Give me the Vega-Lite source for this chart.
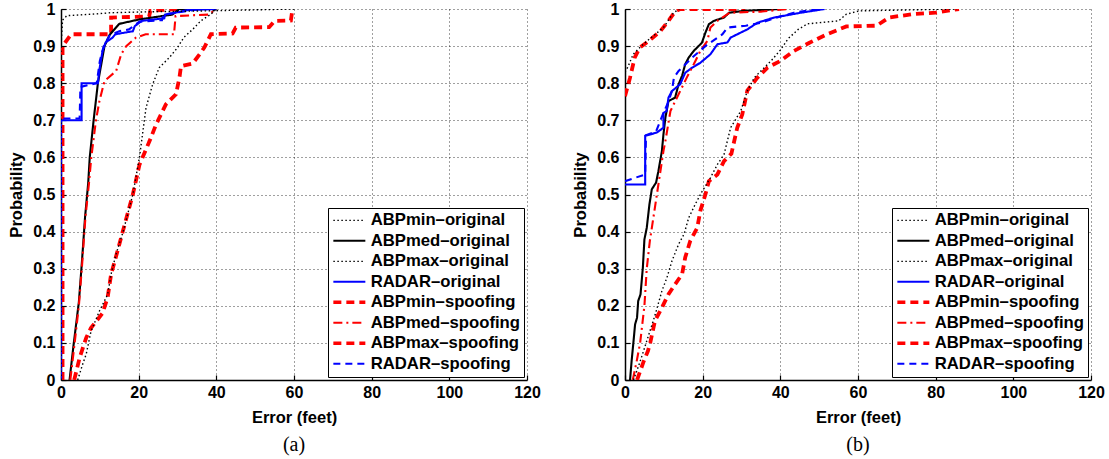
{
  "$schema": "https://vega.github.io/schema/vega-lite/v6.json",
  "background": "white",
  "padding": {"left": 8, "top": 1, "right": 5, "bottom": 5},
  "datasets": {
    "a": [
      {"s":"ABPmin–original","x":0,"p":0},{"s":"ABPmin–original","x":0,"p":0.9},{"s":"ABPmin–original","x":0.4,"p":0.97},{"s":"ABPmin–original","x":1.5,"p":0.982},{"s":"ABPmin–original","x":8,"p":0.986},{"s":"ABPmin–original","x":13,"p":0.99},{"s":"ABPmin–original","x":25,"p":0.993},{"s":"ABPmin–original","x":38,"p":0.995},{"s":"ABPmin–original","x":60,"p":1},
      {"s":"ABPmed–original","x":2.2,"p":0},{"s":"ABPmed–original","x":3.3,"p":0.1},{"s":"ABPmed–original","x":4.6,"p":0.21},{"s":"ABPmed–original","x":5.4,"p":0.32},{"s":"ABPmed–original","x":6.2,"p":0.44},{"s":"ABPmed–original","x":7.0,"p":0.53},{"s":"ABPmed–original","x":7.4,"p":0.6},{"s":"ABPmed–original","x":8.4,"p":0.7},{"s":"ABPmed–original","x":9.5,"p":0.8},{"s":"ABPmed–original","x":11.2,"p":0.9},{"s":"ABPmed–original","x":12.5,"p":0.93},{"s":"ABPmed–original","x":15,"p":0.96},{"s":"ABPmed–original","x":20.2,"p":0.972},{"s":"ABPmed–original","x":28.7,"p":0.985},{"s":"ABPmed–original","x":30.5,"p":1},{"s":"ABPmed–original","x":40,"p":1},
      {"s":"ABPmax–original","x":4.3,"p":0},{"s":"ABPmax–original","x":5.5,"p":0.04},{"s":"ABPmax–original","x":6.5,"p":0.07},{"s":"ABPmax–original","x":7.7,"p":0.13},{"s":"ABPmax–original","x":9.9,"p":0.186},{"s":"ABPmax–original","x":12,"p":0.23},{"s":"ABPmax–original","x":13,"p":0.29},{"s":"ABPmax–original","x":14.2,"p":0.34},{"s":"ABPmax–original","x":16,"p":0.4},{"s":"ABPmax–original","x":18.5,"p":0.5},{"s":"ABPmax–original","x":20.2,"p":0.6},{"s":"ABPmax–original","x":21.9,"p":0.734},{"s":"ABPmax–original","x":23.6,"p":0.797},{"s":"ABPmax–original","x":25.3,"p":0.842},{"s":"ABPmax–original","x":27.9,"p":0.869},{"s":"ABPmax–original","x":30,"p":0.896},{"s":"ABPmax–original","x":31.6,"p":0.923},{"s":"ABPmax–original","x":33.9,"p":0.945},{"s":"ABPmax–original","x":36,"p":0.968},{"s":"ABPmax–original","x":38.6,"p":0.986},{"s":"ABPmax–original","x":40,"p":1},
      {"s":"RADAR–original","x":0,"p":0},{"s":"RADAR–original","x":0,"p":0.7},{"s":"RADAR–original","x":5.3,"p":0.7},{"s":"RADAR–original","x":5.3,"p":0.8},{"s":"RADAR–original","x":9.5,"p":0.8},{"s":"RADAR–original","x":9.9,"p":0.837},{"s":"RADAR–original","x":10.7,"p":0.887},{"s":"RADAR–original","x":11.5,"p":0.91},{"s":"RADAR–original","x":13.3,"p":0.923},{"s":"RADAR–original","x":14,"p":0.932},{"s":"RADAR–original","x":18.5,"p":0.94},{"s":"RADAR–original","x":19,"p":0.954},{"s":"RADAR–original","x":20.8,"p":0.968},{"s":"RADAR–original","x":26.6,"p":0.975},{"s":"RADAR–original","x":26.8,"p":0.985},{"s":"RADAR–original","x":29.5,"p":0.99},{"s":"RADAR–original","x":32.5,"p":0.997},{"s":"RADAR–original","x":40,"p":1},
      {"s":"ABPmin–spoofing","x":0.4,"p":0},{"s":"ABPmin–spoofing","x":0.4,"p":0.9},{"s":"ABPmin–spoofing","x":2.6,"p":0.932},{"s":"ABPmin–spoofing","x":12.9,"p":0.932},{"s":"ABPmin–spoofing","x":12.9,"p":0.977},{"s":"ABPmin–spoofing","x":22.7,"p":0.98},{"s":"ABPmin–spoofing","x":23,"p":0.995},{"s":"ABPmin–spoofing","x":30,"p":1},
      {"s":"ABPmed–spoofing","x":2.4,"p":0},{"s":"ABPmed–spoofing","x":3.3,"p":0.08},{"s":"ABPmed–spoofing","x":4.6,"p":0.2},{"s":"ABPmed–spoofing","x":5.5,"p":0.32},{"s":"ABPmed–spoofing","x":6.3,"p":0.44},{"s":"ABPmed–spoofing","x":7.2,"p":0.53},{"s":"ABPmed–spoofing","x":7.8,"p":0.6},{"s":"ABPmed–spoofing","x":9,"p":0.7},{"s":"ABPmed–spoofing","x":9.9,"p":0.752},{"s":"ABPmed–spoofing","x":11.2,"p":0.806},{"s":"ABPmed–spoofing","x":14.2,"p":0.833},{"s":"ABPmed–spoofing","x":15.5,"p":0.878},{"s":"ABPmed–spoofing","x":16.8,"p":0.9},{"s":"ABPmed–spoofing","x":19.3,"p":0.923},{"s":"ABPmed–spoofing","x":21.8,"p":0.932},{"s":"ABPmed–spoofing","x":29.1,"p":0.932},{"s":"ABPmed–spoofing","x":29.5,"p":0.981},{"s":"ABPmed–spoofing","x":38,"p":0.985},{"s":"ABPmed–spoofing","x":40,"p":1},
      {"s":"ABPmax–spoofing","x":3.4,"p":0},{"s":"ABPmax–spoofing","x":4.8,"p":0.06},{"s":"ABPmax–spoofing","x":6.5,"p":0.114},{"s":"ABPmax–spoofing","x":7.7,"p":0.14},{"s":"ABPmax–spoofing","x":10.7,"p":0.18},{"s":"ABPmax–spoofing","x":12,"p":0.222},{"s":"ABPmax–spoofing","x":12.9,"p":0.285},{"s":"ABPmax–spoofing","x":14.2,"p":0.334},{"s":"ABPmax–spoofing","x":15.9,"p":0.4},{"s":"ABPmax–spoofing","x":18.5,"p":0.5},{"s":"ABPmax–spoofing","x":20.2,"p":0.58},{"s":"ABPmax–spoofing","x":22.8,"p":0.644},{"s":"ABPmax–spoofing","x":24.5,"p":0.689},{"s":"ABPmax–spoofing","x":27,"p":0.743},{"s":"ABPmax–spoofing","x":29.6,"p":0.77},{"s":"ABPmax–spoofing","x":30.5,"p":0.815},{"s":"ABPmax–spoofing","x":30.9,"p":0.846},{"s":"ABPmax–spoofing","x":33.9,"p":0.853},{"s":"ABPmax–spoofing","x":35.7,"p":0.878},{"s":"ABPmax–spoofing","x":36.9,"p":0.896},{"s":"ABPmax–spoofing","x":38.6,"p":0.932},{"s":"ABPmax–spoofing","x":44.2,"p":0.934},{"s":"ABPmax–spoofing","x":45,"p":0.95},{"s":"ABPmax–spoofing","x":53.6,"p":0.951},{"s":"ABPmax–spoofing","x":55,"p":0.968},{"s":"ABPmax–spoofing","x":59.2,"p":0.969},{"s":"ABPmax–spoofing","x":59.6,"p":1},
      {"s":"RADAR–spoofing","x":0,"p":0},{"s":"RADAR–spoofing","x":0,"p":0.705},{"s":"RADAR–spoofing","x":4.8,"p":0.705},{"s":"RADAR–spoofing","x":5,"p":0.79},{"s":"RADAR–spoofing","x":9.2,"p":0.8},{"s":"RADAR–spoofing","x":10,"p":0.86},{"s":"RADAR–spoofing","x":11,"p":0.9},{"s":"RADAR–spoofing","x":12.6,"p":0.93},{"s":"RADAR–spoofing","x":15,"p":0.94},{"s":"RADAR–spoofing","x":17.5,"p":0.945},{"s":"RADAR–spoofing","x":20.2,"p":0.966},{"s":"RADAR–spoofing","x":26,"p":0.97},{"s":"RADAR–spoofing","x":26.4,"p":0.985},{"s":"RADAR–spoofing","x":29.5,"p":0.99},{"s":"RADAR–spoofing","x":36,"p":1}
    ],
    "b": [
      {"s":"ABPmin–original","x":0,"p":0.83},{"s":"ABPmin–original","x":0.8,"p":0.845},{"s":"ABPmin–original","x":2.1,"p":0.878},{"s":"ABPmin–original","x":4.7,"p":0.905},{"s":"ABPmin–original","x":6.4,"p":0.92},{"s":"ABPmin–original","x":9.9,"p":0.95},{"s":"ABPmin–original","x":12.5,"p":0.99},{"s":"ABPmin–original","x":14,"p":1},
      {"s":"ABPmed–original","x":1.3,"p":0},{"s":"ABPmed–original","x":1.7,"p":0.051},{"s":"ABPmed–original","x":2.2,"p":0.105},{"s":"ABPmed–original","x":2.6,"p":0.15},{"s":"ABPmed–original","x":3.1,"p":0.168},{"s":"ABPmed–original","x":3.4,"p":0.213},{"s":"ABPmed–original","x":4.0,"p":0.231},{"s":"ABPmed–original","x":4.6,"p":0.303},{"s":"ABPmed–original","x":5.0,"p":0.379},{"s":"ABPmed–original","x":5.6,"p":0.41},{"s":"ABPmed–original","x":6.3,"p":0.474},{"s":"ABPmed–original","x":6.9,"p":0.514},{"s":"ABPmed–original","x":8.0,"p":0.532},{"s":"ABPmed–original","x":8.6,"p":0.563},{"s":"ABPmed–original","x":9.5,"p":0.617},{"s":"ABPmed–original","x":9.9,"p":0.662},{"s":"ABPmed–original","x":10.4,"p":0.707},{"s":"ABPmed–original","x":11.2,"p":0.752},{"s":"ABPmed–original","x":12.9,"p":0.761},{"s":"ABPmed–original","x":13.8,"p":0.797},{"s":"ABPmed–original","x":14.7,"p":0.82},{"s":"ABPmed–original","x":15.5,"p":0.851},{"s":"ABPmed–original","x":16.4,"p":0.869},{"s":"ABPmed–original","x":17.7,"p":0.887},{"s":"ABPmed–original","x":19.8,"p":0.909},{"s":"ABPmed–original","x":20.7,"p":0.936},{"s":"ABPmed–original","x":21.6,"p":0.959},{"s":"ABPmed–original","x":22.9,"p":0.968},{"s":"ABPmed–original","x":25.5,"p":0.977},{"s":"ABPmed–original","x":26.8,"p":0.99},{"s":"ABPmed–original","x":30.6,"p":0.995},{"s":"ABPmed–original","x":40,"p":1},
      {"s":"ABPmax–original","x":2.2,"p":0},{"s":"ABPmax–original","x":3.9,"p":0.05},{"s":"ABPmax–original","x":5.6,"p":0.105},{"s":"ABPmax–original","x":7.8,"p":0.177},{"s":"ABPmax–original","x":9.5,"p":0.24},{"s":"ABPmax–original","x":10.8,"p":0.276},{"s":"ABPmax–original","x":12.1,"p":0.321},{"s":"ABPmax–original","x":13.8,"p":0.366},{"s":"ABPmax–original","x":15.2,"p":0.393},{"s":"ABPmax–original","x":16.4,"p":0.437},{"s":"ABPmax–original","x":18.1,"p":0.474},{"s":"ABPmax–original","x":19.9,"p":0.509},{"s":"ABPmax–original","x":22,"p":0.545},{"s":"ABPmax–original","x":23.8,"p":0.581},{"s":"ABPmax–original","x":25.5,"p":0.608},{"s":"ABPmax–original","x":27.2,"p":0.68},{"s":"ABPmax–original","x":29.8,"p":0.725},{"s":"ABPmax–original","x":31.5,"p":0.779},{"s":"ABPmax–original","x":33.3,"p":0.815},{"s":"ABPmax–original","x":35,"p":0.833},{"s":"ABPmax–original","x":37.6,"p":0.86},{"s":"ABPmax–original","x":40,"p":0.889},{"s":"ABPmax–original","x":42,"p":0.92},{"s":"ABPmax–original","x":44.6,"p":0.945},{"s":"ABPmax–original","x":47,"p":0.96},{"s":"ABPmax–original","x":55,"p":0.968},{"s":"ABPmax–original","x":57,"p":0.986},{"s":"ABPmax–original","x":60.4,"p":0.995},{"s":"ABPmax–original","x":85.5,"p":1},
      {"s":"RADAR–original","x":0,"p":0.527},{"s":"RADAR–original","x":5.2,"p":0.527},{"s":"RADAR–original","x":5.2,"p":0.658},{"s":"RADAR–original","x":8.2,"p":0.667},{"s":"RADAR–original","x":9.9,"p":0.68},{"s":"RADAR–original","x":9.9,"p":0.72},{"s":"RADAR–original","x":10.7,"p":0.725},{"s":"RADAR–original","x":11.2,"p":0.761},{"s":"RADAR–original","x":12.1,"p":0.779},{"s":"RADAR–original","x":14.2,"p":0.797},{"s":"RADAR–original","x":15.5,"p":0.828},{"s":"RADAR–original","x":17.3,"p":0.842},{"s":"RADAR–original","x":19.4,"p":0.855},{"s":"RADAR–original","x":22,"p":0.878},{"s":"RADAR–original","x":23.8,"p":0.905},{"s":"RADAR–original","x":26.4,"p":0.91},{"s":"RADAR–original","x":27.2,"p":0.923},{"s":"RADAR–original","x":31.5,"p":0.945},{"s":"RADAR–original","x":34.1,"p":0.963},{"s":"RADAR–original","x":38.4,"p":0.977},{"s":"RADAR–original","x":45.3,"p":0.99},{"s":"RADAR–original","x":51.4,"p":1},
      {"s":"ABPmin–spoofing","x":0,"p":0.765},{"s":"ABPmin–spoofing","x":1.3,"p":0.815},{"s":"ABPmin–spoofing","x":2.5,"p":0.869},{"s":"ABPmin–spoofing","x":3.8,"p":0.896},{"s":"ABPmin–spoofing","x":5.5,"p":0.909},{"s":"ABPmin–spoofing","x":6.8,"p":0.92},{"s":"ABPmin–spoofing","x":9.1,"p":0.94},{"s":"ABPmin–spoofing","x":11.2,"p":0.968},{"s":"ABPmin–spoofing","x":12.9,"p":0.993},{"s":"ABPmin–spoofing","x":14.2,"p":1},{"s":"ABPmin–spoofing","x":31,"p":1},
      {"s":"ABPmed–spoofing","x":2.0,"p":0},{"s":"ABPmed–spoofing","x":3.0,"p":0.05},{"s":"ABPmed–spoofing","x":3.9,"p":0.1},{"s":"ABPmed–spoofing","x":5.0,"p":0.2},{"s":"ABPmed–spoofing","x":5.6,"p":0.3},{"s":"ABPmed–spoofing","x":6.4,"p":0.375},{"s":"ABPmed–spoofing","x":7.3,"p":0.437},{"s":"ABPmed–spoofing","x":8.6,"p":0.527},{"s":"ABPmed–spoofing","x":9.9,"p":0.617},{"s":"ABPmed–spoofing","x":10.4,"p":0.644},{"s":"ABPmed–spoofing","x":11.7,"p":0.725},{"s":"ABPmed–spoofing","x":13.8,"p":0.77},{"s":"ABPmed–spoofing","x":15.9,"p":0.815},{"s":"ABPmed–spoofing","x":17.7,"p":0.851},{"s":"ABPmed–spoofing","x":19.4,"p":0.887},{"s":"ABPmed–spoofing","x":21.2,"p":0.914},{"s":"ABPmed–spoofing","x":22,"p":0.95},{"s":"ABPmed–spoofing","x":24,"p":0.97},{"s":"ABPmed–spoofing","x":27,"p":0.99},{"s":"ABPmed–spoofing","x":35,"p":0.993},{"s":"ABPmed–spoofing","x":42,"p":1},
      {"s":"ABPmax–spoofing","x":3.1,"p":0},{"s":"ABPmax–spoofing","x":4.8,"p":0.05},{"s":"ABPmax–spoofing","x":5.9,"p":0.078},{"s":"ABPmax–spoofing","x":6.5,"p":0.1},{"s":"ABPmax–spoofing","x":7.7,"p":0.159},{"s":"ABPmax–spoofing","x":9.5,"p":0.195},{"s":"ABPmax–spoofing","x":11.2,"p":0.231},{"s":"ABPmax–spoofing","x":12.9,"p":0.258},{"s":"ABPmax–spoofing","x":14.7,"p":0.285},{"s":"ABPmax–spoofing","x":15.5,"p":0.33},{"s":"ABPmax–spoofing","x":16.8,"p":0.375},{"s":"ABPmax–spoofing","x":18.6,"p":0.41},{"s":"ABPmax–spoofing","x":19.4,"p":0.456},{"s":"ABPmax–spoofing","x":20.7,"p":0.5},{"s":"ABPmax–spoofing","x":21.6,"p":0.536},{"s":"ABPmax–spoofing","x":23.8,"p":0.554},{"s":"ABPmax–spoofing","x":25.5,"p":0.59},{"s":"ABPmax–spoofing","x":27.4,"p":0.61},{"s":"ABPmax–spoofing","x":28.9,"p":0.68},{"s":"ABPmax–spoofing","x":30.2,"p":0.716},{"s":"ABPmax–spoofing","x":31.5,"p":0.78},{"s":"ABPmax–spoofing","x":34.1,"p":0.815},{"s":"ABPmax–spoofing","x":36.7,"p":0.842},{"s":"ABPmax–spoofing","x":40,"p":0.86},{"s":"ABPmax–spoofing","x":43.5,"p":0.887},{"s":"ABPmax–spoofing","x":47.5,"p":0.909},{"s":"ABPmax–spoofing","x":52,"p":0.932},{"s":"ABPmax–spoofing","x":57,"p":0.953},{"s":"ABPmax–spoofing","x":64.8,"p":0.955},{"s":"ABPmax–spoofing","x":68,"p":0.977},{"s":"ABPmax–spoofing","x":74,"p":0.986},{"s":"ABPmax–spoofing","x":80,"p":0.99},{"s":"ABPmax–spoofing","x":86,"p":1},
      {"s":"RADAR–spoofing","x":0,"p":0.536},{"s":"RADAR–spoofing","x":5.2,"p":0.554},{"s":"RADAR–spoofing","x":5.4,"p":0.66},{"s":"RADAR–spoofing","x":8,"p":0.67},{"s":"RADAR–spoofing","x":9.9,"p":0.72},{"s":"RADAR–spoofing","x":11.2,"p":0.75},{"s":"RADAR–spoofing","x":12.1,"p":0.78},{"s":"RADAR–spoofing","x":12.6,"p":0.815},{"s":"RADAR–spoofing","x":13.8,"p":0.833},{"s":"RADAR–spoofing","x":14.7,"p":0.842},{"s":"RADAR–spoofing","x":17.3,"p":0.869},{"s":"RADAR–spoofing","x":20.7,"p":0.9},{"s":"RADAR–spoofing","x":25.1,"p":0.932},{"s":"RADAR–spoofing","x":26.4,"p":0.95},{"s":"RADAR–spoofing","x":31.1,"p":0.955},{"s":"RADAR–spoofing","x":35,"p":0.963},{"s":"RADAR–spoofing","x":40,"p":0.98},{"s":"RADAR–spoofing","x":43.5,"p":0.99},{"s":"RADAR–spoofing","x":50,"p":1}
    ]
  },
  "spacing": 98,
  "bounds": "flush",
  "resolve": {
    "scale": {"color": "independent", "strokeDash": "independent"},
    "legend": {"color": "independent", "strokeDash": "independent"}
  },
  "hconcat": [
    {
      "width": 466, "height": 371,
      "data": {"name": "a"},
      "title": {"text": "(a)", "orient": "bottom"},
      "encoding": {
        "x": {"field": "x", "type": "quantitative", "scale": {"domain": [0, 120], "nice": false}, "axis": {"values": [0, 20, 40, 60, 80, 100, 120], "title": "Error (feet)"}},
        "y": {"field": "p", "type": "quantitative", "scale": {"domain": [0, 1], "nice": false}, "axis": {"values": [0, 0.1, 0.2, 0.3, 0.4, 0.5, 0.6, 0.7, 0.8, 0.9, 1], "format": "~g", "title": "Probability"}},
        "color": {"field": "s", "type": "nominal", "title": null,
          "scale": {"domain": ["ABPmin–original","ABPmed–original","ABPmax–original","RADAR–original","ABPmin–spoofing","ABPmed–spoofing","ABPmax–spoofing","RADAR–spoofing"], "range": ["#000000","#000000","#000000","#0000ff","#ff0000","#ff0000","#ff0000","#0000ff"]},
          "legend": {"encode": {"symbols": {"update": {"strokeWidth": {"signal": "datum.value == 'ABPmin–spoofing' || datum.value == 'ABPmax–spoofing' ? 3.5 : (datum.value == 'ABPmin–original' || datum.value == 'ABPmax–original' ? 1.4 : 2)"}}}}}},
        "strokeDash": {"field": "s", "type": "nominal", "title": null,
          "scale": {"domain": ["ABPmin–original","ABPmed–original","ABPmax–original","RADAR–original","ABPmin–spoofing","ABPmed–spoofing","ABPmax–spoofing","RADAR–spoofing"], "range": [[1.5,2.5],[1,0],[1.5,2.5],[1,0],[8,5],[9,4,2,4],[8,5],[7,5]]}},
        "order": [{"field": "p", "type": "quantitative"}, {"field": "x", "type": "quantitative"}]
      },
      "layer": [
        {"transform": [{"filter": {"field": "s", "oneOf": ["ABPmin–spoofing", "ABPmax–spoofing"]}}], "mark": {"type": "line", "strokeCap": "butt", "clip": true, "strokeWidth": 3.8}},
        {"transform": [{"filter": {"field": "s", "oneOf": ["ABPmed–original", "RADAR–original", "ABPmed–spoofing", "RADAR–spoofing"]}}], "mark": {"type": "line", "strokeCap": "butt", "clip": true, "strokeWidth": 2.1}},
        {"transform": [{"filter": {"field": "s", "oneOf": ["ABPmin–original", "ABPmax–original"]}}], "mark": {"type": "line", "strokeCap": "butt", "clip": true, "strokeWidth": 1.4}}
      ]
    },
    {
      "width": 466, "height": 371,
      "data": {"name": "b"},
      "title": {"text": "(b)", "orient": "bottom"},
      "encoding": {
        "x": {"field": "x", "type": "quantitative", "scale": {"domain": [0, 120], "nice": false}, "axis": {"values": [0, 20, 40, 60, 80, 100, 120], "title": "Error (feet)"}},
        "y": {"field": "p", "type": "quantitative", "scale": {"domain": [0, 1], "nice": false}, "axis": {"values": [0, 0.1, 0.2, 0.3, 0.4, 0.5, 0.6, 0.7, 0.8, 0.9, 1], "format": "~g", "title": "Probability"}},
        "color": {"field": "s", "type": "nominal", "title": null,
          "scale": {"domain": ["ABPmin–original","ABPmed–original","ABPmax–original","RADAR–original","ABPmin–spoofing","ABPmed–spoofing","ABPmax–spoofing","RADAR–spoofing"], "range": ["#000000","#000000","#000000","#0000ff","#ff0000","#ff0000","#ff0000","#0000ff"]},
          "legend": {"encode": {"symbols": {"update": {"strokeWidth": {"signal": "datum.value == 'ABPmin–spoofing' || datum.value == 'ABPmax–spoofing' ? 3.5 : (datum.value == 'ABPmin–original' || datum.value == 'ABPmax–original' ? 1.4 : 2)"}}}}}},
        "strokeDash": {"field": "s", "type": "nominal", "title": null,
          "scale": {"domain": ["ABPmin–original","ABPmed–original","ABPmax–original","RADAR–original","ABPmin–spoofing","ABPmed–spoofing","ABPmax–spoofing","RADAR–spoofing"], "range": [[1.5,2.5],[1,0],[1.5,2.5],[1,0],[8,5],[9,4,2,4],[8,5],[7,5]]}},
        "order": [{"field": "p", "type": "quantitative"}, {"field": "x", "type": "quantitative"}]
      },
      "layer": [
        {"transform": [{"filter": {"field": "s", "oneOf": ["ABPmin–spoofing", "ABPmax–spoofing"]}}], "mark": {"type": "line", "strokeCap": "butt", "clip": true, "strokeWidth": 3.8}},
        {"transform": [{"filter": {"field": "s", "oneOf": ["ABPmed–original", "RADAR–original", "ABPmed–spoofing", "RADAR–spoofing"]}}], "mark": {"type": "line", "strokeCap": "butt", "clip": true, "strokeWidth": 2.1}},
        {"transform": [{"filter": {"field": "s", "oneOf": ["ABPmin–original", "ABPmax–original"]}}], "mark": {"type": "line", "strokeCap": "butt", "clip": true, "strokeWidth": 1.4}}
      ]
    }
  ],
  "config": {
    "view": {"stroke": null},
    "font": "Liberation Sans",
    "axis": {
      "labelFont": "Liberation Sans", "labelFontSize": 16, "labelFontWeight": "bold", "labelColor": "#000",
      "titleFont": "Liberation Sans", "titleFontSize": 16.5, "titleFontWeight": "bold", "titleColor": "#000",
      "domainColor": "#000", "domainWidth": 1.5, "tickColor": "#000", "tickWidth": 1.2, "tickSize": -5,
      "gridColor": "#000", "gridDash": [1, 3], "gridWidth": 1, "gridOpacity": 0.75,
      "labelFlush": false, "labelOverlap": false
    },
    "axisX": {"labelPadding": 9, "titlePadding": 9},
    "axisY": {"labelPadding": 11, "titlePadding": 8},
    "title": {"font": "Liberation Serif", "fontSize": 20, "fontWeight": "normal", "color": "#000", "offset": 9, "anchor": "middle"},
    "legend": {
      "orient": "bottom-right", "offset": 3,
      "strokeColor": "#000", "fillColor": "#fff", "padding": 4,
      "symbolType": "M-1,0H3.57", "symbolSize": 196, "symbolStrokeWidth": 2, "symbolFillColor": "transparent",
      "labelFont": "Liberation Sans", "labelFontSize": 16.7, "labelFontWeight": "bold", "labelColor": "#000",
      "labelOffset": 22, "rowPadding": 2.5, "labelLimit": 300
    }
  }
}
